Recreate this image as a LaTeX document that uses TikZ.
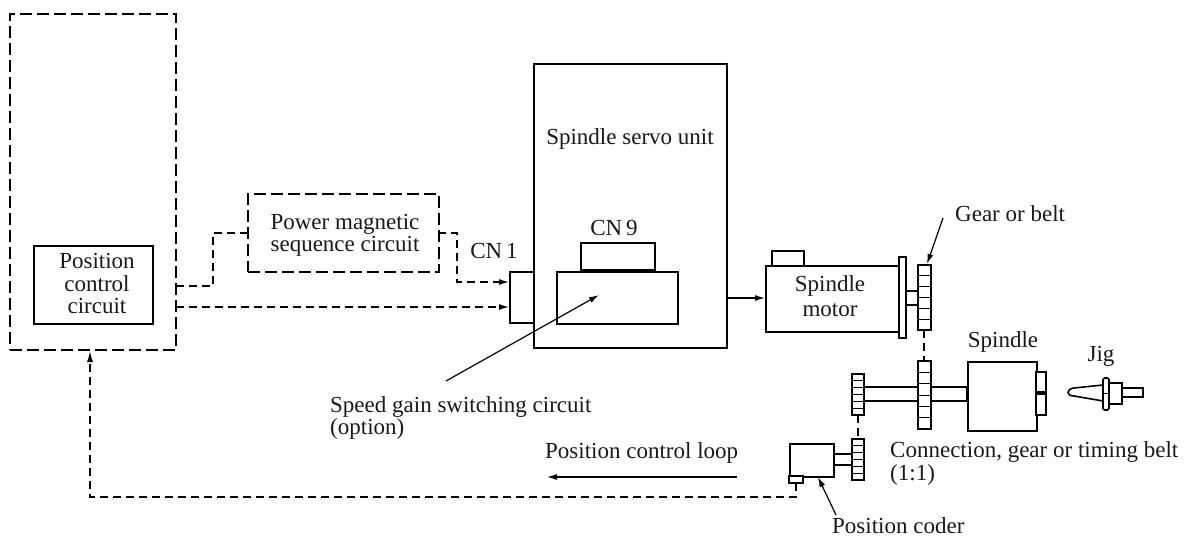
\documentclass[tikz,border=0pt]{standalone}
\usepackage{fontspec}
\setmainfont{Liberation Serif}
\usetikzlibrary{arrows.meta}
\tikzset{
  x=1pt,y=-1pt,
  lbl/.style={font=\fontsize{23}{22}\selectfont,inner sep=0pt,text=black!90,align=left},
  part/.style={draw,line width=1.6pt,fill=white},
  dashbox/.style={draw,line width=2pt,dash pattern=on 12pt off 5pt},
  dashlink/.style={line width=1.3pt,dash pattern=on 8pt off 5pt},
  arr/.style={line width=1.2pt,-{Latex[length=10pt,width=6pt]}},
}
\newcommand{\teeth}[4]{% x1 x2 y1 y2
  \draw[part] (#1,#3) rectangle (#2,#4);
  \pgfmathsetmacro{\st}{(#4-#3)/6}
  \foreach \i in {1,...,5}{\draw[line width=1pt] (#1,#3+\i*\st) -- (#2,#3+\i*\st);}
}
\begin{document}
\begin{tikzpicture}
\useasboundingbox (0,0) rectangle (1195,538);
\fill[white] (0,0) rectangle (1195,538);
% left units
\node[dashbox,minimum width=166pt,minimum height=336pt,anchor=north west,inner sep=0pt] (ctrl) at (9,13) {};
\node[draw,line width=1.8pt,anchor=north west,minimum width=119pt,minimum height=78pt,inner sep=0pt] (pos) at (33,245) {};
\node[lbl,align=center] at (97,283) {Position\\[1pt]control\\circuit};
\node[dashbox,anchor=north west,minimum width=191pt,minimum height=78pt,inner sep=0pt] (pwr) at (247,193) {};
\node[lbl,align=center] at (345,235) {Power magnetic\\sequence circuit};
% servo
\node[draw,line width=1.6pt,anchor=north west,minimum width=193pt,minimum height=284pt,inner sep=0pt] (servo) at (533,63) {};
\node[lbl] at (630,139) {Spindle servo unit};
\node[draw,line width=1.6pt,anchor=north west,minimum width=24pt,minimum height=51pt,inner sep=0pt] (cn1) at (509,271) {};
\node[lbl] at (494,251) {CN\,1};
\node[draw,line width=1.6pt,anchor=north west,minimum width=121pt,minimum height=52pt,inner sep=0pt] (cn9) at (556,271) {};
\node[draw,line width=1.6pt,anchor=south west,minimum width=74pt,minimum height=27pt,inner sep=0pt] (cn9t) at (580,271) {};
\node[lbl] at (614,228) {CN\,9};
% motor
\node[part,anchor=north west,minimum width=32pt,minimum height=15pt,inner sep=0pt] (mtop) at (771,250) {};
\node[part,anchor=north west,minimum width=134pt,minimum height=66pt,inner sep=0pt] (motor) at (765,265) {};
\node[lbl,align=center] at (830,296) {Spindle\\[3pt]motor};
\draw[part] (899,257) rectangle (906,338);
\draw[part] (906,291) rectangle (918,305);
\teeth{918}{931}{265}{330}
% spindle
\draw[part] (864,387) rectangle (967,401);
\node[part,anchor=north west,minimum width=69pt,minimum height=69pt,inner sep=0pt] (spindle) at (967,361) {};
\draw[part] (1036,372) rectangle (1046,392);
\draw[part] (1036,394) rectangle (1046,415);
\teeth{918}{931}{361}{429}
\teeth{852}{864}{374}{415}
\node[lbl] at (1003,342) {Spindle};
% coder
\draw[part] (833,454) rectangle (852,465);
\node[part,anchor=north west,minimum width=44pt,minimum height=33pt,inner sep=0pt] (coder) at (789,443) {};
\draw[part] (789,476) rectangle (803,483);
\coordinate (cs) at (796,483);
\teeth{852}{864}{439}{480}
% jig
\draw[part] (1122,388) rectangle (1143,397);
\draw[line width=1.6pt] (1103,385) -- (1074,388) .. controls (1066,389) and (1066,396) .. (1074,396) -- (1103,401);
\draw[part] (1109,383) rectangle (1122,404);
\draw[part,rounded corners=1.5pt] (1103,378) rectangle (1109,410);
\draw[line width=1pt] (1103,393) -- (1109,393);
\node[lbl] at (1101,356) {Jig};
% connectors
\coordinate (a1) at (176,286); \coordinate (a2) at (176,307);
\coordinate (b1) at (509,282); \coordinate (b2) at (509,307);
\draw[dashlink] (a1) -- (213,286) -- (213,233) -- (247,233);
\draw[dashlink,-{Latex[length=10pt,width=6pt]}] (438,233) -- (457,233) -- (457,282) -- (b1);
\draw[dashlink,-{Latex[length=10pt,width=6pt]}] (a2) -- (b2);
\coordinate (s1) at (726,298);
\draw[arr] (s1) -- (motor.west |- s1);
\draw[dashlink] (924,330) -- (924,361);
\draw[dashlink] (858,415) -- (858,439);
\draw[dashlink,-{Latex[length=11pt,width=6pt]}] (cs) -- (796,497) -- (90,497) -- (90,351);
% leaders
\coordinate (l1) at (446,381); \coordinate (l1e) at (599,295);
\draw[arr] (l1) -- (l1e);
\coordinate (l2) at (943,218); \coordinate (l2e) at (927,264);
\draw[arr] (l2) -- (l2e);
\coordinate (l3) at (836,515); \coordinate (l3e) at (818,477);
\draw[arr] (l3) -- (l3e);
\coordinate (l4) at (737,477); \coordinate (l4e) at (547,477);
\draw[arr] (l4) -- (l4e);
% labels
\node[lbl,anchor=west] at (955,214) {Gear or belt};
\node[lbl,anchor=north west] at (330,396) {Speed gain switching circuit\\(option)};
\node[lbl,anchor=west] at (545,453) {Position control loop};
\node[lbl,anchor=north west] at (890,441) {Connection, gear or timing belt\\[1pt](1:1)};
\node[lbl,anchor=west] at (832,526) {Position coder};
\end{tikzpicture}
\end{document}
